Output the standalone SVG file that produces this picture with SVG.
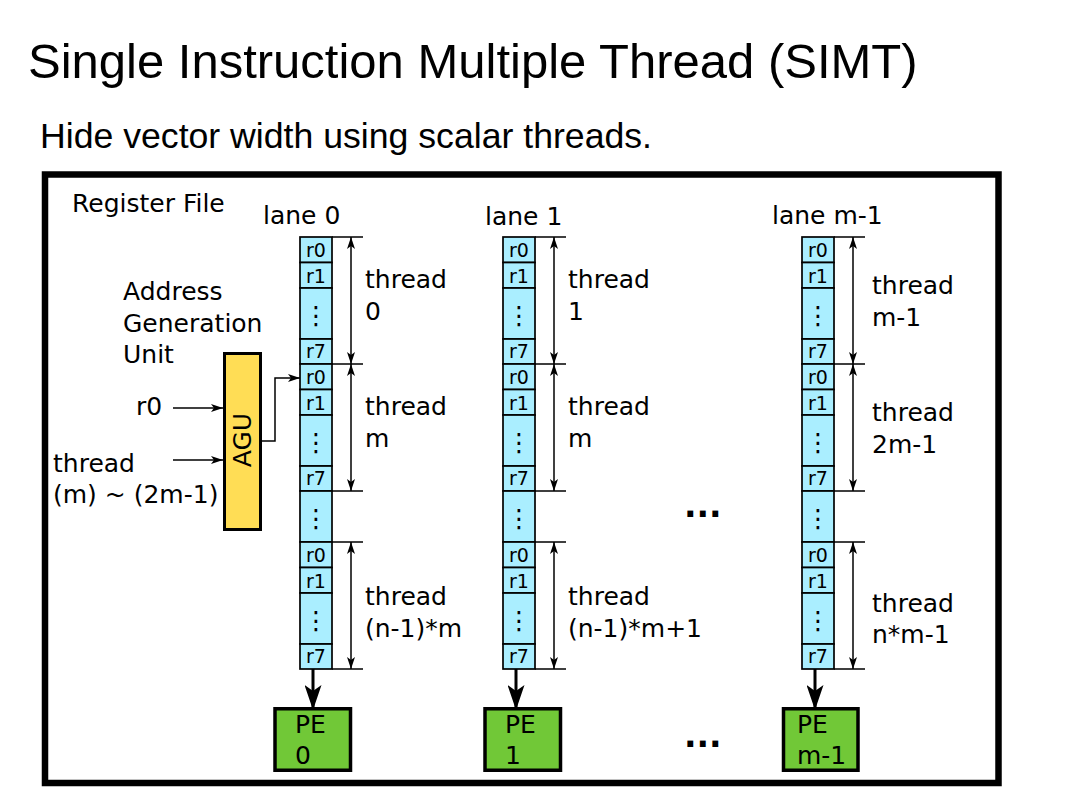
<svg xmlns="http://www.w3.org/2000/svg" width="1066" height="800" viewBox="0 0 1066 800">
<style>
  .t { font-family: "DejaVu Sans", "Liberation Sans", sans-serif; font-size: 25px; fill: #000; }
  .c { font-family: "DejaVu Sans", "Liberation Sans", sans-serif; font-size: 19px; fill: #000; text-anchor: middle; }
  .vd { font-family: "DejaVu Sans", sans-serif; font-size: 25px; fill: #000; text-anchor: middle; }
  .cell { fill: #aaeeff; stroke: #000; stroke-width: 1.7; }
  .tick { stroke: #000; stroke-width: 1.5; fill: none; }
  .dim { stroke: #000; stroke-width: 1.5; fill: none; marker-start: url(#ah); marker-end: url(#ah); }
  .thin { stroke: #000; stroke-width: 1.5; fill: none; marker-end: url(#ah); }
  .thick { stroke: #000; stroke-width: 3; fill: none; marker-end: url(#big); }
  .pe { fill: #71c837; stroke: #000; stroke-width: 3.5; }
  .dots { font-family: "DejaVu Sans", sans-serif; font-weight: bold; font-size: 33px; fill: #000; }
</style>
<defs>
  <marker id="ah" viewBox="0 0 12 8" refX="12" refY="4" markerWidth="12" markerHeight="8" markerUnits="userSpaceOnUse" orient="auto-start-reverse">
    <path d="M0,0 L12,4 L0,8 L3,4 Z" fill="#000"/>
  </marker>
  <marker id="big" viewBox="0 0 25 17" refX="25" refY="8.5" markerWidth="25" markerHeight="17" markerUnits="userSpaceOnUse" orient="auto">
    <path d="M0,0 L25,8.5 L0,17 L6,8.5 Z" fill="#000"/>
  </marker>
</defs>
<rect width="1066" height="800" fill="#fff"/>

<g id="title">
  <text x="28" y="78" font-family="Liberation Sans, Arial, sans-serif" font-size="49">Single Instruction Multiple Thread (SIMT)</text>
  <text x="40" y="148" font-family="Liberation Sans, Arial, sans-serif" font-size="35" textLength="612" lengthAdjust="spacingAndGlyphs">Hide vector width using scalar threads.</text>
</g>

<g id="frame">
  <rect x="45" y="174.5" width="953.5" height="608.5" fill="none" stroke="#000" stroke-width="6.5"/>
  <text class="t" x="72" y="212">Register File</text>
</g>

<g id="agu-label">
  <text class="t" x="123" y="300">Address</text>
  <text class="t" x="123" y="332">Generation</text>
  <text class="t" x="123" y="363">Unit</text>
  <text class="t" x="136" y="415">r0</text>
  <text class="t" x="53" y="472">thread</text>
  <text class="t" x="53" y="503">(m) ~ (2m-1)</text>
</g>

<g id="agu">
  <rect x="224.5" y="353.5" width="36" height="176" fill="#ffdd55" stroke="#000" stroke-width="3"/>
  <text class="t" text-anchor="middle" transform="translate(251,440) rotate(-90)">AGU</text>
</g>

<!-- lane 0 -->
<g id="lane0">
  <text class="t" x="263" y="224">lane 0</text>
  <rect class="cell" x="300" y="237" width="32" height="25.5"/>
  <rect class="cell" x="300" y="262.5" width="32" height="25.5"/>
  <rect class="cell" x="300" y="288" width="32" height="51"/>
  <rect class="cell" x="300" y="339" width="32" height="25"/>
  <rect class="cell" x="300" y="364" width="32" height="25.5"/>
  <rect class="cell" x="300" y="389.5" width="32" height="25.5"/>
  <rect class="cell" x="300" y="415" width="32" height="51"/>
  <rect class="cell" x="300" y="466" width="32" height="25"/>
  <rect class="cell" x="300" y="491" width="32" height="51"/>
  <rect class="cell" x="300" y="542" width="32" height="25.5"/>
  <rect class="cell" x="300" y="567.5" width="32" height="25.5"/>
  <rect class="cell" x="300" y="593" width="32" height="51"/>
  <rect class="cell" x="300" y="644" width="32" height="25"/>
  <text class="c" x="316" y="257">r0</text>
  <text class="c" x="316" y="282.5">r1</text>
  <text class="vd" x="316" y="323.5">⋮</text>
  <text class="c" x="316" y="358">r7</text>
  <text class="c" x="316" y="384">r0</text>
  <text class="c" x="316" y="409.5">r1</text>
  <text class="vd" x="316" y="450.5">⋮</text>
  <text class="c" x="316" y="485">r7</text>
  <text class="vd" x="316" y="526.5">⋮</text>
  <text class="c" x="316" y="562">r0</text>
  <text class="c" x="316" y="587.5">r1</text>
  <text class="vd" x="316" y="628.5">⋮</text>
  <text class="c" x="316" y="663">r7</text>
  <path class="tick" d="M332,237H363M332,364H363M332,491H363M332,542H363M332,669H363"/>
  <line class="dim" x1="351" y1="237" x2="351" y2="364"/>
  <line class="dim" x1="351" y1="364" x2="351" y2="491"/>
  <line class="dim" x1="351" y1="542" x2="351" y2="669"/>
  <text class="t" x="365" y="288">thread</text><text class="t" x="365" y="320">0</text>
  <text class="t" x="365" y="415">thread</text><text class="t" x="365" y="447">m</text>
  <text class="t" x="365" y="605">thread</text><text class="t" x="365" y="637">(n-1)*m</text>
</g>

<!-- lane 1 -->
<g id="lane1">
  <text class="t" x="485" y="225">lane 1</text>
  <rect class="cell" x="503" y="237" width="32" height="25.5"/>
  <rect class="cell" x="503" y="262.5" width="32" height="25.5"/>
  <rect class="cell" x="503" y="288" width="32" height="51"/>
  <rect class="cell" x="503" y="339" width="32" height="25"/>
  <rect class="cell" x="503" y="364" width="32" height="25.5"/>
  <rect class="cell" x="503" y="389.5" width="32" height="25.5"/>
  <rect class="cell" x="503" y="415" width="32" height="51"/>
  <rect class="cell" x="503" y="466" width="32" height="25"/>
  <rect class="cell" x="503" y="491" width="32" height="51"/>
  <rect class="cell" x="503" y="542" width="32" height="25.5"/>
  <rect class="cell" x="503" y="567.5" width="32" height="25.5"/>
  <rect class="cell" x="503" y="593" width="32" height="51"/>
  <rect class="cell" x="503" y="644" width="32" height="25"/>
  <text class="c" x="519" y="257">r0</text>
  <text class="c" x="519" y="282.5">r1</text>
  <text class="vd" x="519" y="323.5">⋮</text>
  <text class="c" x="519" y="358">r7</text>
  <text class="c" x="519" y="384">r0</text>
  <text class="c" x="519" y="409.5">r1</text>
  <text class="vd" x="519" y="450.5">⋮</text>
  <text class="c" x="519" y="485">r7</text>
  <text class="vd" x="519" y="526.5">⋮</text>
  <text class="c" x="519" y="562">r0</text>
  <text class="c" x="519" y="587.5">r1</text>
  <text class="vd" x="519" y="628.5">⋮</text>
  <text class="c" x="519" y="663">r7</text>
  <path class="tick" d="M535,237H566M535,364H566M535,491H566M535,542H566M535,669H566"/>
  <line class="dim" x1="554" y1="237" x2="554" y2="364"/>
  <line class="dim" x1="554" y1="364" x2="554" y2="491"/>
  <line class="dim" x1="554" y1="542" x2="554" y2="669"/>
  <text class="t" x="568" y="288">thread</text><text class="t" x="568" y="320">1</text>
  <text class="t" x="568" y="415">thread</text><text class="t" x="568" y="447">m</text>
  <text class="t" x="568" y="605">thread</text><text class="t" x="568" y="637">(n-1)*m+1</text>
</g>

<!-- lane m-1 -->
<g id="lanem1">
  <text class="t" x="772" y="224">lane m-1</text>
  <rect class="cell" x="802" y="237" width="32" height="25.5"/>
  <rect class="cell" x="802" y="262.5" width="32" height="25.5"/>
  <rect class="cell" x="802" y="288" width="32" height="51"/>
  <rect class="cell" x="802" y="339" width="32" height="25"/>
  <rect class="cell" x="802" y="364" width="32" height="25.5"/>
  <rect class="cell" x="802" y="389.5" width="32" height="25.5"/>
  <rect class="cell" x="802" y="415" width="32" height="51"/>
  <rect class="cell" x="802" y="466" width="32" height="25"/>
  <rect class="cell" x="802" y="491" width="32" height="51"/>
  <rect class="cell" x="802" y="542" width="32" height="25.5"/>
  <rect class="cell" x="802" y="567.5" width="32" height="25.5"/>
  <rect class="cell" x="802" y="593" width="32" height="51"/>
  <rect class="cell" x="802" y="644" width="32" height="25"/>
  <text class="c" x="818" y="257">r0</text>
  <text class="c" x="818" y="282.5">r1</text>
  <text class="vd" x="818" y="323.5">⋮</text>
  <text class="c" x="818" y="358">r7</text>
  <text class="c" x="818" y="384">r0</text>
  <text class="c" x="818" y="409.5">r1</text>
  <text class="vd" x="818" y="450.5">⋮</text>
  <text class="c" x="818" y="485">r7</text>
  <text class="vd" x="818" y="526.5">⋮</text>
  <text class="c" x="818" y="562">r0</text>
  <text class="c" x="818" y="587.5">r1</text>
  <text class="vd" x="818" y="628.5">⋮</text>
  <text class="c" x="818" y="663">r7</text>
  <path class="tick" d="M834,237H865M834,364H865M834,491H865M834,542H865M834,669H865"/>
  <line class="dim" x1="853" y1="237" x2="853" y2="364"/>
  <line class="dim" x1="853" y1="364" x2="853" y2="491"/>
  <line class="dim" x1="853" y1="542" x2="853" y2="669"/>
  <text class="t" x="872" y="294">thread</text><text class="t" x="872" y="326">m-1</text>
  <text class="t" x="872" y="421">thread</text><text class="t" x="872" y="453">2m-1</text>
  <text class="t" x="872" y="612">thread</text><text class="t" x="872" y="643">n*m-1</text>
</g>

<g id="pe0">
  <rect class="pe" x="275" y="708.75" width="75.5" height="61.5"/>
  <text class="t" x="295" y="733">PE</text>
  <text class="t" x="295" y="764">0</text>
</g>
<g id="pe1">
  <rect class="pe" x="485" y="708.75" width="75.5" height="61.5"/>
  <text class="t" x="505" y="733">PE</text>
  <text class="t" x="505" y="764">1</text>
</g>
<g id="pem1">
  <rect class="pe" x="783.5" y="708.75" width="74.5" height="61.5"/>
  <text class="t" x="797" y="733">PE</text>
  <text class="t" x="797" y="764">m-1</text>
</g>

<g id="ellipses">
  <text class="dots" x="684" y="517">...</text>
  <text class="dots" x="684" y="747">...</text>
</g>

<g id="connectors">
  <line class="thin" x1="173" y1="408" x2="223" y2="408"/>
  <line class="thin" x1="173" y1="460" x2="223" y2="460"/>
  <polyline class="thin" points="262,441 275,441 275,378 300,378"/>
  <line class="thick" x1="313" y1="669" x2="313" y2="710"/>
  <line class="thick" x1="516" y1="669" x2="516" y2="710"/>
  <line class="thick" x1="815" y1="669" x2="815" y2="710"/>
</g>
</svg>
